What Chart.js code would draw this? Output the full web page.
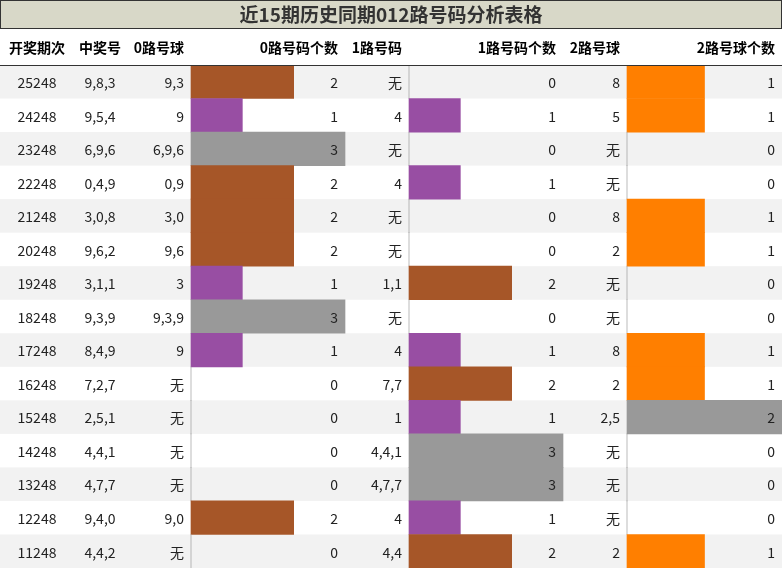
<!DOCTYPE html>
<html><head><meta charset="utf-8">
<script src="https://cdn.jsdelivr.net/npm/chart.js@4"></script>
<style>html,body{margin:0;padding:0;background:#fff}canvas{display:block}</style>
</head><body>
<canvas id="c" width="782" height="568"></canvas>
<script>
const periods=["25248","24248","23248","22248","21248","20248","19248","18248","17248","16248","15248","14248","13248","12248","11248"];
const winning=["9,8,3","9,5,4","6,9,6","0,4,9","3,0,8","9,6,2","3,1,1","9,3,9","8,4,9","7,2,7","2,5,1","4,4,1","4,7,7","9,4,0","4,4,2"];
const ball0=["9,3","9","6,9,6","0,9","3,0","9,6","3","9,3,9","9","无","无","无","无","9,0","无"];
const count0=[2,1,3,2,2,2,1,3,1,0,0,0,0,2,0];
const ball1=["无","4","无","4","无","无","1,1","无","4","7,7","1","4,4,1","4,7,7","4","4,4"];
const count1=[0,1,0,1,0,0,2,0,1,2,1,3,3,1,2];
const ball2=["8","5","无","无","8","2","无","无","8","2","2,5","无","无","无","2"];
const count2=[1,1,0,0,1,1,0,0,1,1,2,0,0,0,1];
const headers=["开奖期次","中奖号","0路号球","0路号码个数","1路号码","1路号码个数","2路号球","2路号球个数"];
const title="近15期历史同期012路号码分析表格";

const c01=v=>v===1?"#984EA3":v===2?"#A65628":"#999999";
const c2=v=>v===1?"#FF7F00":"#999999";
const FONT='"Noto Sans CJK SC","Noto Sans",sans-serif';

const tablePlugin={id:'tbl',
 beforeDatasetsDraw(ch){
  const ctx=ch.ctx,y=ch.scales.y;
  ctx.save();
  const h=(y.getPixelForValue(1)-y.getPixelForValue(0));
  periods.forEach((p,i)=>{
   if(i%2===0){ctx.fillStyle="#f2f2f2";ctx.fillRect(0,y.getPixelForValue(i)-h/2,782,h);}
  });
  ctx.restore();
 },
 afterDatasetsDraw(ch){
  const ctx=ch.ctx,y=ch.scales.y;
  ctx.save();
  ctx.fillStyle="#d8d8c8";ctx.fillRect(0,0,782,28);
  ctx.strokeStyle="#333";ctx.lineWidth=1;ctx.strokeRect(0.5,0.5,781,28);
  ctx.fillStyle="#333";ctx.font="bold 19px "+FONT;ctx.textAlign="center";ctx.textBaseline="middle";
  ctx.fillText(title,391,15);
  ctx.fillStyle="#000";ctx.beginPath();ctx.moveTo(0,65.5);ctx.lineTo(782,65.5);ctx.stroke();
  const cols=[[37,"center"],[100,"center"],[184,"right"],[338,"right"],[402,"right"],[556,"right"],[620,"right"],[775,"right"]];
  ctx.font="bold 14px "+FONT;
  headers.forEach((t,k)=>{ctx.textAlign=cols[k][1];ctx.fillText(t,cols[k][0],48);});
  ctx.font="14px "+FONT;ctx.fillStyle="#222";
  periods.forEach((p,i)=>{
   const vals=[p,winning[i],ball0[i],count0[i],ball1[i],count1[i],ball2[i],count2[i]];
   const yy=y.getPixelForValue(i)+1;
   vals.forEach((v,k)=>{ctx.textAlign=cols[k][1];ctx.fillText(String(v),cols[k][0],yy);});
  });
  ctx.restore();
 }};

new Chart(document.getElementById('c'),{
 type:'bar',
 data:{labels:periods,datasets:[
  {data:count0,xAxisID:'x0',backgroundColor:count0.map(c01),grouped:false,barPercentage:1,categoryPercentage:1,borderWidth:0},
  {data:count1,xAxisID:'x1',backgroundColor:count1.map(c01),grouped:false,barPercentage:1,categoryPercentage:1,borderWidth:0},
  {data:count2,xAxisID:'x2',backgroundColor:count2.map(c2),grouped:false,barPercentage:1,categoryPercentage:1,borderWidth:0}
 ]},
 options:{indexAxis:'y',responsive:false,animation:false,devicePixelRatio:1,
  layout:{padding:{top:65,left:0,right:0,bottom:0}},
  plugins:{legend:{display:false},tooltip:{enabled:false}},
  scales:{
   y:{display:false,offset:true},
   x0:{display:false,min:-191/51.333,max:3+437/51.333},
   x1:{display:false,min:-409/51.333,max:3+219/51.333},
   x2:{display:false,min:-627/77.5,max:2}
  }},
 plugins:[tablePlugin]
});
</script>
</body></html>
